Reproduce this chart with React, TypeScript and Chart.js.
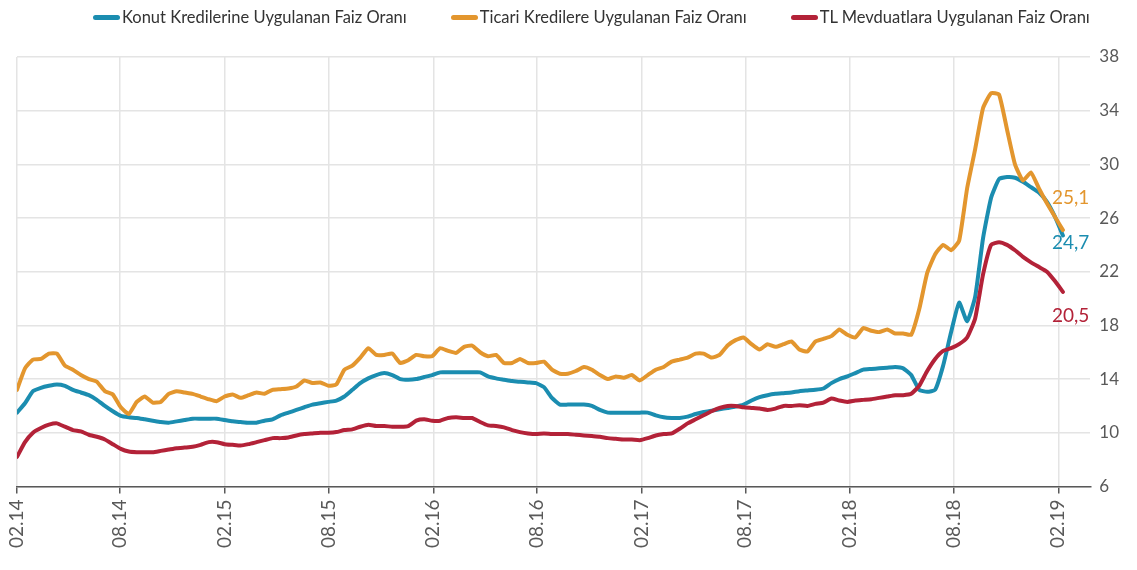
import React, { useEffect, useRef } from "react";
import { Chart, registerables } from "chart.js";

Chart.register(...registerables);

const FONT = "Lato, 'Liberation Sans', Arial, sans-serif";

const seriesNames = [
  "Konut Kredilerine Uygulanan Faiz Oranı",
  "Ticari Kredilere Uygulanan Faiz Oranı",
  "TL Mevduatlara Uygulanan Faiz Oranı",
];
const seriesColors = ["#1b8db0", "#e3962e", "#b32238"];

// two-weekly observations starting 1 Feb 2014
const startDate = Date.UTC(2014, 1, 1);
const stepDays = 14;

const konut = [
  11.5, 12.2, 13.1, 13.35, 13.5, 13.6, 13.5, 13.2, 13.0, 12.8,
  12.45, 12.0, 11.6, 11.25, 11.15, 11.1, 11.0, 10.9, 10.8, 10.75,
  10.85, 10.95, 11.05, 11.05, 11.05, 11.05, 10.95, 10.85, 10.8, 10.75,
  10.75, 10.9, 11.0, 11.3, 11.5, 11.7, 11.9, 12.1, 12.2, 12.3,
  12.4, 12.7, 13.2, 13.7, 14.05, 14.3, 14.45, 14.3, 14.0, 13.95,
  14.0, 14.15, 14.3, 14.5, 14.5, 14.5, 14.5, 14.5, 14.5, 14.2,
  14.05, 13.95, 13.85, 13.8, 13.75, 13.7, 13.4, 12.6, 12.1, 12.1,
  12.1, 12.1, 12.0, 11.7, 11.5, 11.5, 11.5, 11.5, 11.5, 11.5,
  11.3, 11.15, 11.1, 11.1, 11.2, 11.4, 11.55, 11.65, 11.75, 11.85,
  11.95, 12.1, 12.4, 12.65, 12.8, 12.9, 12.95, 13.0, 13.1, 13.15,
  13.2, 13.3, 13.7, 14.0, 14.2, 14.45, 14.7, 14.75, 14.8, 14.85,
  14.9, 14.8, 14.3, 13.2, 13.05, 13.2, 15.0, 17.5, 19.7, 18.3,
  20.1, 24.5, 27.5, 28.9, 29.05, 29.0, 28.7, 28.3, 27.9, 27.2,
  26.1, 24.7,
];

const ticari = [
  13.2, 14.8, 15.45, 15.5, 15.9, 15.9, 15.0, 14.7, 14.3, 14.0,
  13.8, 13.1, 12.85, 11.9, 11.4, 12.3, 12.7, 12.25, 12.3, 12.9,
  13.1, 13.0, 12.9, 12.7, 12.5, 12.35, 12.7, 12.85, 12.6, 12.8,
  13.0, 12.9, 13.2, 13.25, 13.3, 13.45, 13.9, 13.7, 13.75, 13.5,
  13.6, 14.7, 15.0, 15.6, 16.3, 15.8, 15.8, 15.9, 15.2, 15.4,
  15.8, 15.7, 15.7, 16.3, 16.1, 15.95, 16.4, 16.5, 16.0, 15.7,
  15.8, 15.2, 15.2, 15.5, 15.2, 15.2, 15.3, 14.7, 14.4, 14.4,
  14.6, 14.9, 14.7, 14.3, 14.0, 14.2, 14.1, 14.3, 13.9, 14.3,
  14.7, 14.9, 15.3, 15.45, 15.6, 15.9, 15.9, 15.6, 15.8, 16.5,
  16.9, 17.1, 16.6, 16.2, 16.6, 16.4, 16.6, 16.8, 16.2, 16.05,
  16.8, 17.0, 17.2, 17.7, 17.3, 17.1, 17.8, 17.6, 17.5, 17.7,
  17.4, 17.4, 17.3, 19.2, 21.9, 23.3, 24.0, 23.6, 24.3, 28.2,
  31.1, 34.2, 35.3, 35.2, 32.6, 30.0, 28.8, 29.4, 28.2, 27.1,
  26.1, 25.1,
];

const mevduat = [
  8.2, 9.3, 10.0, 10.35, 10.6, 10.7, 10.45, 10.2, 10.1, 9.85,
  9.7, 9.5, 9.15, 8.8, 8.6, 8.55, 8.55, 8.55, 8.65, 8.75,
  8.85, 8.9, 8.95, 9.1, 9.3, 9.3, 9.15, 9.1, 9.05, 9.15,
  9.3, 9.45, 9.6, 9.6, 9.65, 9.8, 9.9, 9.95, 10.0, 10.0,
  10.05, 10.2, 10.25, 10.45, 10.6, 10.5, 10.5, 10.45, 10.45, 10.5,
  10.9, 11.0, 10.9, 10.9, 11.1, 11.15, 11.1, 11.1, 10.8, 10.55,
  10.5, 10.4, 10.2, 10.05, 9.95, 9.9, 9.95, 9.9, 9.9, 9.9,
  9.85, 9.8, 9.75, 9.7, 9.6, 9.55, 9.5, 9.5, 9.45, 9.6,
  9.8, 9.9, 9.95, 10.3, 10.7, 11.0, 11.3, 11.6, 11.85, 12.0,
  12.0, 11.9, 11.85, 11.8, 11.7, 11.8, 12.0, 12.0, 12.05, 12.0,
  12.15, 12.25, 12.55, 12.4, 12.3, 12.4, 12.45, 12.5, 12.6, 12.7,
  12.8, 12.8, 12.9, 13.5, 14.6, 15.5, 16.1, 16.3, 16.6, 17.1,
  18.5, 21.8, 24.0, 24.2, 24.0, 23.6, 23.1, 22.7, 22.35, 22.0,
  21.3, 20.5,
];

const tickLabels = [
  "02.14", "08.14", "02.15", "08.15", "02.16", "08.16",
  "02.17", "08.17", "02.18", "08.18", "02.19",
];

const yMin = 6;
const yMax = 38;
const yStep = 4;
const xMaxDays = 1882;

const DAY = 86400000;
const labelToDay = (lbl: string) => {
  const m = parseInt(lbl.slice(0, 2), 10);
  const y = 2000 + parseInt(lbl.slice(3), 10);
  return (Date.UTC(y, m - 1, 1) - startDate) / DAY;
};

const toPoints = (vals: number[]) => vals.map((v, i) => ({ x: i * stepDays, y: v }));

// label offsets (px) relative to each series' last point
const endLabelOffsets = [
  { dx: -11, dy: 7 },
  { dx: -11, dy: -32 },
  { dx: -11, dy: 24 },
];

const endLabelPlugin = {
  id: "endLabels",
  afterDatasetsDraw(chart: any) {
    const ctx = chart.ctx;
    ctx.save();
    ctx.font = `19px ${FONT}`;
    ctx.textAlign = "left";
    ctx.textBaseline = "middle";
    chart.data.datasets.forEach((ds: any, i: number) => {
      const meta = chart.getDatasetMeta(i);
      const last = meta.data[meta.data.length - 1];
      const val = ds.data[ds.data.length - 1].y;
      const off = endLabelOffsets[i];
      ctx.fillStyle = seriesColors[i];
      ctx.fillText(val.toFixed(1).replace(".", ","), last.x + off.dx, last.y + off.dy);
    });
    ctx.restore();
  },
};

export default function App() {
  const ref = useRef<HTMLCanvasElement | null>(null);

  useEffect(() => {
    if (!ref.current) return;
    const series = [konut, ticari, mevduat];
    const orders = [3, 2, 1];
    const tickDays = tickLabels.map(labelToDay);
    const chart = new Chart(ref.current, {
      type: "line",
      data: {
        datasets: series.map((s, i) => ({
          label: seriesNames[i],
          data: toPoints(s),
          borderColor: seriesColors[i],
          backgroundColor: seriesColors[i],
          borderWidth: 4,
          pointRadius: 0,
          tension: 0.15,
          borderJoinStyle: "round",
          borderCapStyle: "round",
          order: orders[i],
        })),
      },
      options: {
        responsive: false,
        animation: false,
        layout: { padding: { top: 57, left: 17, right: 9, bottom: 16 } },
        plugins: {
          legend: { display: false },
          tooltip: { enabled: false },
        },
        scales: {
          x: {
            type: "linear",
            min: 0,
            max: xMaxDays,
            afterBuildTicks: (axis: any) => {
              axis.ticks = tickDays.map((v) => ({ value: v }));
            },
            ticks: {
              autoSkip: false,
              maxRotation: 90,
              minRotation: 90,
              padding: 6,
              color: "#595959",
              font: { family: FONT, size: 19 },
              callback: (_v: any, idx: number) => tickLabels[idx],
            },
            grid: {
              color: "#e4e4e4",
              lineWidth: 1.5,
              tickColor: "#595959",
              tickLength: 7,
            },
            border: { color: "#595959", width: 1.5 },
          },
          y: {
            position: "right",
            min: yMin,
            max: yMax,
            ticks: {
              stepSize: yStep,
              padding: 9,
              color: "#595959",
              font: { family: FONT, size: 17 },
            },
            grid: { color: "#e4e4e4", lineWidth: 1.5, drawTicks: false },
            border: { display: false },
          },
        },
      },
      plugins: [endLabelPlugin],
    });
    return () => chart.destroy();
  }, []);

  return (
    <div style={{ position: "absolute", left: 0, top: 0, width: 1137, height: 570, background: "#fff" }}>
      <div
        style={{
          position: "absolute",
          left: 93,
          top: 5,
          display: "flex",
          alignItems: "center",
          gap: 44,
          fontFamily: FONT,
          fontSize: 16.5,
          lineHeight: "24px",
          color: "#333",
          whiteSpace: "nowrap",
        }}
      >
        {seriesNames.map((n, i) => (
          <div key={n} style={{ display: "flex", alignItems: "center" }}>
            <span
              style={{
                display: "inline-block",
                width: 27,
                height: 5,
                borderRadius: 3,
                background: seriesColors[i],
                marginRight: 2,
              }}
            />
            <span>{n}</span>
          </div>
        ))}
      </div>
      <canvas ref={ref} width={1137} height={570} style={{ display: "block" }} />
    </div>
  );
}
